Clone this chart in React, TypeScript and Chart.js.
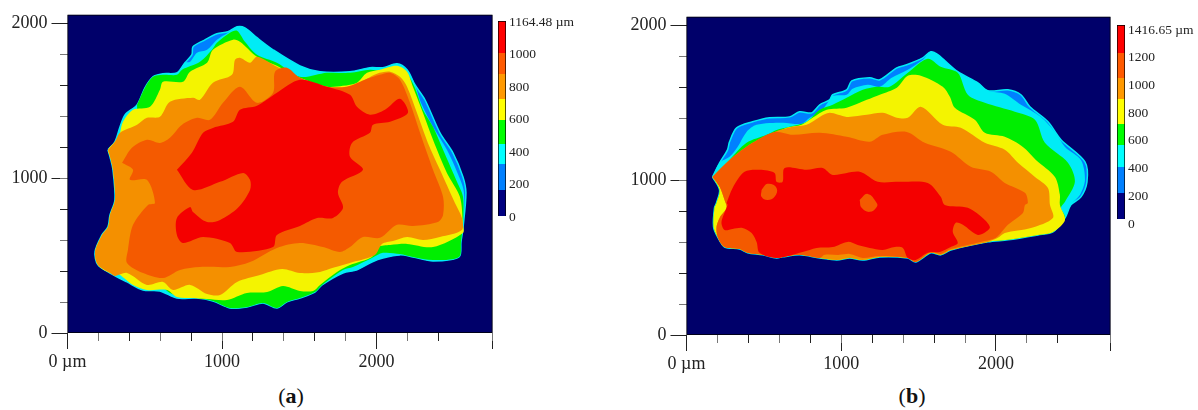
import React, { useEffect, useRef } from "react";
import { Chart, registerables } from "chart.js";

Chart.register(...registerables);

type Pt = [number, number];

const NAVY = "#00006a";
const FONT = "'Liberation Serif', serif";
const layerColors = ["#0080ff", "#00ecf6", "#00ee00", "#f4f400", "#f49000", "#f45a00", "#f40000"];
const barColors = ["#000080", "#0080ff", "#00ffff", "#00ff00", "#ffff00", "#ff9900", "#ff5a00", "#ff0000"];

// ---------- panel (a): contour outlines, micrometres
const blueA: Pt[] = [[262,1184],[307,1236],[340,1333],[372,1410],[450,1475],[501,1585],[553,1656],[618,1676],[708,1682],[760,1747],[805,1799],[812,1850],[877,1889],[967,1935],[1038,1947],[1097,1980],[1148,1973],[1226,1909],[1330,1831],[1504,1727],[1634,1689],[1828,1689],[1957,1715],[2041,1715],[2132,1740],[2197,1702],[2248,1605],[2313,1508],[2410,1294],[2494,1165],[2559,1009],[2578,906],[2559,679],[2546,589],[2533,492],[2365,466],[2235,492],[2151,505],[2041,485],[1970,459],[1873,408],[1782,388],[1647,311],[1601,265],[1504,226],[1420,201],[1355,162],[1265,194],[1161,168],[1051,162],[941,207],[838,226],[708,226],[598,272],[489,278],[385,330],[275,388],[197,440],[178,524],[223,634],[262,686],[275,763],[307,861],[294,1055],[275,1139]];
const cyanA: Pt[] = [[262,1184],[307,1236],[340,1333],[372,1410],[450,1475],[501,1585],[553,1656],[618,1676],[708,1682],[760,1747],[793,1753],[838,1812],[903,1831],[967,1896],[1038,1941],[1097,1980],[1148,1973],[1226,1909],[1330,1831],[1504,1727],[1634,1689],[1828,1689],[1957,1715],[2041,1715],[2132,1740],[2197,1702],[2248,1605],[2287,1488],[2365,1333],[2455,1184],[2520,1042],[2565,912],[2559,679],[2546,589],[2533,492],[2365,466],[2235,492],[2151,505],[2041,485],[1970,459],[1873,408],[1782,388],[1647,311],[1601,265],[1504,226],[1420,201],[1355,162],[1265,194],[1161,168],[1051,162],[941,207],[838,226],[708,226],[598,272],[489,278],[385,330],[275,388],[197,440],[178,524],[223,634],[262,686],[275,763],[307,861],[294,1055],[275,1139]];
const greenA: Pt[] = [[450,1475],[501,1585],[553,1656],[618,1669],[708,1669],[741,1702],[857,1753],[935,1831],[967,1876],[1051,1941],[1097,1954],[1148,1883],[1226,1799],[1355,1747],[1504,1656],[1679,1682],[1828,1682],[1957,1702],[2041,1695],[2132,1721],[2197,1676],[2248,1585],[2300,1443],[2365,1333],[2430,1184],[2520,977],[2559,880],[2559,699],[2546,589],[2533,492],[2365,472],[2235,492],[2151,511],[2041,518],[1970,485],[1847,427],[1782,408],[1647,311],[1601,265],[1504,226],[1420,201],[1355,162],[1265,194],[1161,168],[1051,162],[941,207],[838,226],[663,259],[598,343],[469,861]];
const yellowA: Pt[] = [[340,1294],[359,1365],[424,1443],[534,1462],[598,1572],[618,1624],[747,1624],[793,1689],[903,1747],[941,1831],[1071,1896],[1116,1883],[1226,1786],[1355,1727],[1504,1650],[1679,1592],[1782,1598],[1873,1618],[1938,1682],[2022,1702],[2132,1727],[2197,1689],[2235,1592],[2300,1423],[2365,1249],[2455,1035],[2539,880],[2559,699],[2559,647],[2365,556],[2197,576],[2087,569],[2009,556],[1970,492],[1828,440],[1744,395],[1634,311],[1589,272],[1504,272],[1394,304],[1291,265],[1161,259],[1032,214],[903,220],[812,226],[708,233],[644,278],[514,278],[424,311],[320,388],[275,388],[197,440],[178,524],[223,634],[262,686],[275,763],[307,861],[294,1055],[275,1139],[262,1184],[307,1236]];
const orangeA: Pt[] = [[262,1184],[307,1236],[340,1294],[450,1346],[514,1391],[598,1398],[663,1495],[812,1521],[857,1508],[941,1618],[1064,1669],[1084,1766],[1116,1779],[1181,1747],[1226,1786],[1355,1721],[1504,1650],[1679,1592],[1808,1592],[1873,1605],[1938,1643],[2002,1676],[2087,1689],[2151,1656],[2197,1592],[2261,1423],[2332,1229],[2410,1055],[2507,841],[2552,744],[2552,666],[2410,621],[2300,602],[2197,621],[2106,595],[2035,576],[1989,505],[1847,459],[1718,421],[1634,395],[1504,388],[1388,414],[1245,375],[1097,330],[987,246],[903,252],[793,311],[683,278],[618,330],[514,311],[385,388],[307,369],[275,388],[197,440],[178,524],[223,634],[262,686],[275,763],[307,861],[294,1055],[275,1139]];
const darkA: Pt[] = [[353,1100],[417,1197],[514,1249],[598,1229],[663,1262],[741,1346],[838,1391],[922,1378],[1006,1488],[1116,1592],[1226,1488],[1330,1553],[1343,1689],[1420,1715],[1504,1650],[1679,1592],[1808,1592],[1938,1643],[2022,1669],[2087,1682],[2151,1637],[2216,1488],[2281,1294],[2365,1055],[2430,880],[2430,763],[2397,718],[2235,692],[2132,699],[2022,615],[1912,621],[1828,556],[1763,524],[1653,556],[1504,582],[1355,550],[1181,459],[1051,427],[857,427],[728,408],[618,356],[489,388],[385,453],[391,537],[424,699],[521,828],[566,841],[514,990],[404,990],[424,1055]];
const redA: Pt[] = [[708,1055],[805,1165],[877,1294],[941,1326],[1071,1365],[1116,1443],[1226,1469],[1355,1553],[1504,1637],[1679,1592],[1828,1540],[1873,1462],[1957,1411],[2054,1443],[2151,1514],[2203,1423],[2087,1365],[1977,1346],[1957,1294],[1841,1229],[1828,1139],[1912,1055],[1776,977],[1750,906],[1783,809],[1718,744],[1615,744],[1504,692],[1355,634],[1330,556],[1097,524],[1051,582],[877,621],[747,582],[708,634],[708,744],[793,815],[812,783],[903,718],[987,731],[1103,809],[1181,925],[1181,990],[1136,1035],[987,977],[812,925]];

// ---------- panel (b): contour outlines, micrometres
const rightFootB: Pt[] = [[2368,666],[2271,647],[2077,615]];
const undersideB: Pt[] = [[1947,602],[1708,550],[1643,518],[1579,531],[1482,472],[1430,498],[1249,505],[1139,485],[1055,498],[971,485],[861,498],[731,518],[621,505],[582,498],[492,518],[395,531],[343,556],[246,569],[201,634]];
const leftFootB: Pt[] = [[175,699],[181,822],[194,854],[214,938]];
const blueB: Pt[] = [[168,1022],[214,1113],[265,1197],[278,1249],[324,1339],[427,1378],[537,1404],[666,1410],[731,1443],[809,1436],[861,1488],[925,1520],[945,1553],[1035,1585],[1068,1643],[1184,1663],[1249,1650],[1359,1727],[1423,1747],[1527,1792],[1579,1831],[1624,1812],[1753,1702],[1883,1630],[1947,1579],[2077,1585],[2161,1553],[2219,1475],[2336,1378],[2420,1262],[2575,1119],[2588,990],[2549,893],[2484,841],[2446,757],...rightFootB,...undersideB,...leftFootB];
const cyanB: Pt[] = [[168,1022],[214,1113],[278,1152],[330,1216],[388,1313],[453,1359],[621,1372],[744,1365],[796,1404],[861,1436],[912,1501],[945,1546],[1035,1553],[1074,1592],[1171,1618],[1249,1605],[1326,1663],[1430,1715],[1527,1779],[1579,1831],[1624,1812],[1753,1702],[1883,1630],[1947,1579],[2057,1559],[2161,1488],[2290,1410],[2381,1313],[2446,1216],[2549,1132],[2575,1003],[2543,906],[2484,841],[2446,757],...rightFootB,...undersideB,...leftFootB];
const greenB: Pt[] = [[168,1022],[278,1132],[388,1242],[518,1294],[582,1326],[666,1346],[776,1378],[861,1456],[945,1488],[1035,1533],[1139,1585],[1229,1605],[1313,1605],[1430,1695],[1559,1786],[1643,1734],[1753,1695],[1818,1553],[1928,1501],[2122,1443],[2252,1391],[2316,1242],[2465,1113],[2510,990],[2446,861],[2420,822],[2446,757],...rightFootB,...undersideB,...leftFootB];
const yellowB: Pt[] = [[168,1022],[278,1113],[408,1216],[556,1294],[647,1339],[744,1359],[815,1404],[906,1456],[1035,1469],[1165,1520],[1249,1553],[1359,1598],[1430,1676],[1514,1676],[1656,1605],[1702,1540],[1734,1469],[1863,1391],[1928,1307],[2057,1281],[2174,1216],[2258,1132],[2381,1022],[2413,906],[2413,841],[2446,744],...rightFootB,...undersideB,...leftFootB];
const orangeB: Pt[] = [[168,1022],[278,1132],[427,1242],[569,1313],[686,1346],[776,1359],[861,1410],[925,1436],[1035,1410],[1165,1423],[1268,1436],[1359,1404],[1430,1404],[1514,1475],[1656,1359],[1773,1339],[1928,1242],[2057,1197],[2142,1113],[2252,1022],[2336,951],[2349,841],[2368,757],[2226,692],[2057,660],[2012,628],...undersideB,[194,699],[214,757],[259,822],[246,873],[214,958]];
const darkB: Pt[] = [[168,1022],[278,1132],[427,1242],[569,1313],[686,1294],[861,1307],[1035,1281],[1184,1249],[1268,1294],[1423,1313],[1540,1242],[1708,1184],[1837,1087],[1967,1055],[2057,983],[2187,919],[2206,854],[2187,841],[2174,789],[2077,712],[1999,628],[1902,602],[1708,556],[1643,524],[1579,537],[1482,472],[1430,498],[1249,511],[1139,498],[1055,524],[990,518],[893,518],[861,498],[731,518],[621,505],[582,498],[492,518],[395,531],[343,556],[246,569],[201,634],[194,699],[214,757],[259,822],[246,873],[214,958]];
const redB: Pt[] = [[259,854],[298,951],[375,1055],[472,1068],[569,1048],[582,990],[621,990],[634,1080],[776,1068],[880,1080],[945,1035],[1119,1055],[1236,990],[1378,990],[1559,983],[1643,893],[1669,841],[1818,822],[1928,744],[1960,692],[1883,647],[1786,712],[1740,725],[1721,666],[1753,595],[1708,569],[1637,537],[1559,531],[1482,485],[1430,498],[1398,563],[1346,569],[1268,550],[1184,563],[1106,582],[1042,602],[945,569],[841,563],[751,537],[582,498],[472,531],[453,602],[421,660],[362,692],[298,686],[246,679],[226,731],[265,841]];
const lumpOneB: Pt[] = [[485,938],[524,977],[582,951],[569,893],[524,873],[485,893]];
const lumpTwoB: Pt[] = [[1119,873],[1171,912],[1229,854],[1229,828],[1184,796],[1132,822]];

// ---------- axis ranges and colour bars
const xMaxA = 2750;
const yMaxA = 2057;
const xMaxB = 2740;
const yMaxB = 2057;
const barLabelsA = ["1164.48 µm", "1000", "800", "600", "400", "200", "0"];
const barLabelsB = ["1416.65 µm", "1200", "1000", "800", "600", "400", "200", "0"];
const barBandsA = [155, 155, 120, 143, 125, 150, 125, 191.48];
const barBandsB = [190, 190, 160, 153, 183, 153, 183, 204.65];

const closed = (p: Pt[]) => [...p, p[0]].map(([x, y]) => ({ x, y }));

function contourConfig(layers: Pt[][], extras: Pt[][], xMax: number, yMax: number, plotTop: number, plotBottom: number, canvasH: number, rightPad: number) {
  const rect: Pt[] = [[0, 0], [xMax, 0], [xMax, yMax], [0, yMax]];
  const base = { showLine: true, pointRadius: 0, tension: 0, borderWidth: 0, fill: "shape" };
  // Chart.js paints the first dataset last, so the list runs top-most first.
  const datasets: any[] = [];
  extras.forEach((p) => datasets.push({ ...base, tension: 0.45, data: closed(p), backgroundColor: layerColors[5] }));
  for (let i = layers.length - 1; i >= 0; i--) {
    datasets.push({
      ...base,
      tension: 0.3,
      data: closed(layers[i]),
      backgroundColor: layerColors[i],
      borderColor: "#00ecf6",
      borderWidth: i === 0 ? 1.5 : 0,
    });
  }
  datasets.push({ ...base, data: closed(rect), backgroundColor: NAVY, borderColor: "#000", borderWidth: 1.5 });

  const majorColor = (ctx: any) => (ctx.tick && ctx.tick.value % 1000 === 0 ? "#222" : "rgba(0,0,0,0)");
  const minorColor = (ctx: any) => (ctx.tick && ctx.tick.value % 400 === 0 ? "#222" : "#777");
  const font = { family: FONT, size: 18 };
  return {
    type: "scatter",
    data: { datasets },
    options: {
      responsive: false,
      animation: false,
      events: [],
      layout: { padding: { top: plotTop, right: rightPad, left: 0, bottom: 0 } },
      plugins: { legend: { display: false }, tooltip: { enabled: false }, title: { display: false } },
      scales: {
        x: {
          type: "linear", position: "bottom", min: 0, max: xMax,
          border: { display: false },
          grid: {
            drawOnChartArea: false, tickLength: 16, tickWidth: 1,
            tickColor: (ctx: any) => (ctx.tick && ctx.tick.value === xMax ? "#222" : majorColor(ctx)),
          },
          ticks: {
            stepSize: 200, autoSkip: false, maxRotation: 0, minRotation: 0, padding: 2, color: "#222", font,
            callback: (v: any) => (v % 1000 === 0 ? (v === 0 ? "0 µm" : String(v)) : ""),
          },
          afterFit: (s: any) => { s.height = canvasH - plotBottom; },
        },
        y: {
          type: "linear", position: "left", min: 0, max: yMax,
          border: { display: false },
          grid: { drawOnChartArea: false, tickLength: 16, tickWidth: 1, tickColor: majorColor },
          ticks: {
            stepSize: 200, includeBounds: false, autoSkip: false, padding: 4, color: "#222", font,
            callback: (v: any) => (v % 1000 === 0 ? String(v) : ""),
          },
          afterFit: (s: any) => { s.width = 67.5; },
        },
        xMinor: {
          type: "linear", axis: "x", position: { y: 0 }, min: 0, max: xMax,
          border: { display: false },
          grid: { drawOnChartArea: false, tickLength: 8, tickWidth: 1, tickColor: minorColor },
          ticks: { stepSize: 200, display: false, autoSkip: false },
        },
        yMinor: {
          type: "linear", axis: "y", position: { x: 0 }, min: 0, max: yMax,
          border: { display: false },
          grid: { drawOnChartArea: false, tickLength: 8, tickWidth: 1, tickColor: minorColor },
          ticks: { stepSize: 200, includeBounds: false, display: false, autoSkip: false },
        },
      },
    },
  };
}

function barConfig(bands: number[], labels: string[], top: number, bottomPad: number, labelOffset: number, axisWidth: number) {
  const total = bands.reduce((a, b) => a + b, 0);
  return {
    type: "bar",
    data: {
      labels: [""],
      datasets: bands.map((v, i) => ({
        data: [v],
        backgroundColor: barColors[i],
        borderColor: "#000",
        borderSkipped: false,
        borderWidth: { left: 1, right: 1, top: i === bands.length - 1 ? 1 : 0, bottom: 0 },
        barPercentage: 1,
        categoryPercentage: 1,
        yAxisID: "y",
      })),
    },
    options: {
      responsive: false,
      animation: false,
      events: [],
      layout: { padding: { top, bottom: bottomPad, left: 0, right: 0 } },
      plugins: { legend: { display: false }, tooltip: { enabled: false } },
      scales: {
        x: { stacked: true, display: false },
        y: { stacked: true, display: false, min: 0, max: total },
        labelAxis: {
          type: "category", axis: "y", position: "right", labels, offset: false,
          border: { display: false },
          grid: { drawOnChartArea: false, drawTicks: false },
          ticks: {
            autoSkip: false, padding: 3, labelOffset, color: "#222",
            font: { family: FONT, size: 13.5 },
          },
          afterFit: (s: any) => { s.width = axisWidth; },
        },
      },
    },
  };
}

function Panel({ config, left, width, height }: { config: any; left: number; width: number; height: number }) {
  const ref = useRef<HTMLCanvasElement>(null);
  useEffect(() => {
    const chart = new Chart(ref.current as HTMLCanvasElement, config);
    return () => chart.destroy();
  }, []);
  return <canvas ref={ref} width={width} height={height} style={{ position: "absolute", left, top: 0, width, height }} />;
}

const captionStyle: React.CSSProperties = {
  position: "absolute", top: 383, width: 60, textAlign: "center",
  fontFamily: FONT, fontSize: 22, color: "#111", lineHeight: "26px",
};

export default function App() {
  return (
    <div style={{ position: "absolute", left: 0, top: 0, width: 1198, height: 410, background: "#fff", overflow: "hidden" }}>
      <Panel config={contourConfig([blueA, cyanA, greenA, yellowA, orangeA, darkA, redA], [], xMaxA, yMaxA, 14.7, 333, 380, 2.5)} left={0} width={495} height={380} />
      <Panel config={barConfig(barBandsA, barLabelsA, 21, 24, 1, 92)} left={498} width={100} height={240} />
      <Panel config={contourConfig([blueB, cyanB, greenB, yellowB, orangeB, darkB, redB], [lumpOneB, lumpTwoB], xMaxB, yMaxB, 16.8, 335, 380, 2.5)} left={619} width={494} height={380} />
      <Panel config={barConfig(barBandsB, barLabelsB, 25, 21, 5, 73)} left={1117} width={81} height={240} />
      <div style={{ ...captionStyle, left: 261 }}>(<b>a</b>)</div>
      <div style={{ ...captionStyle, left: 882 }}>(<b>b</b>)</div>
    </div>
  );
}
